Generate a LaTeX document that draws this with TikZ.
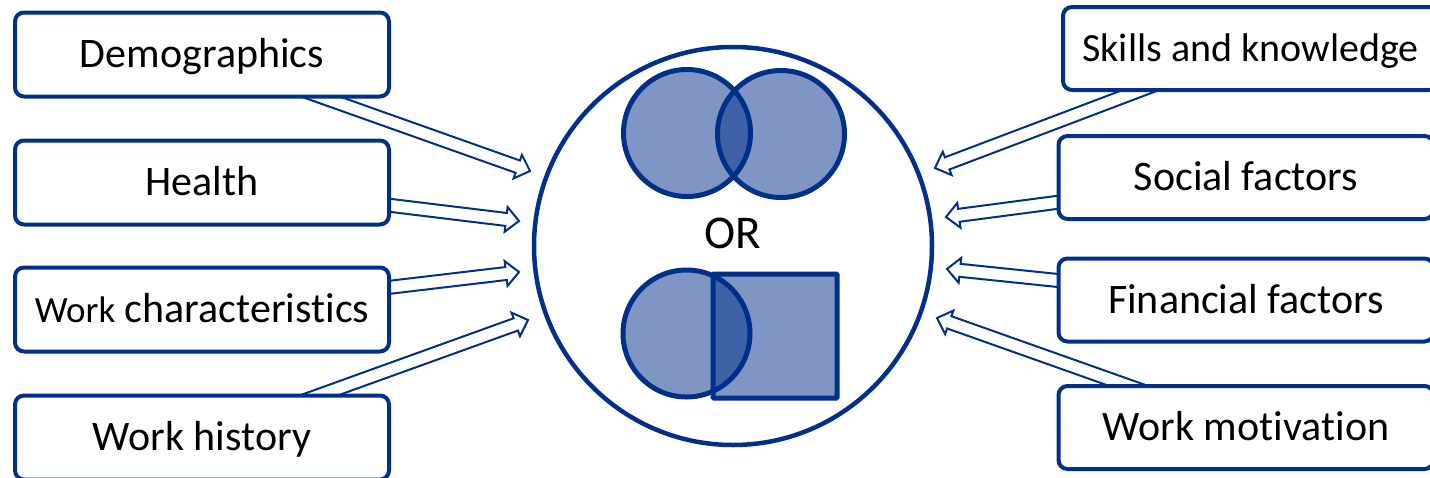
\documentclass[tikz,border=0pt]{standalone}
\usepackage{fontspec}
\setmainfont{Carlito}[Ligatures=NoCommon]
\usetikzlibrary{calc,backgrounds}
\definecolor{bd}{RGB}{0,48,135}
\definecolor{vf}{RGB}{0,45,140}
\begin{document}
\begin{tikzpicture}[x=1pt,y=-1pt,
  box/.style={draw=bd, line width=4pt, rounded corners=9pt, fill=white, inner sep=0pt,
    text height=29pt, text depth=3pt, font=\fontsize{42}{50}\selectfont, align=center},
  lbox/.style={box, minimum width=374pt, minimum height=84pt},
  rbox/.style={box, minimum width=375pt, minimum height=83pt},
  blk/.style={draw=bd, fill=white, line width=2pt, line join=miter,
    to path={let \p1=($(\tikztotarget)!13pt!(\tikztostart)$) in
      ($(\tikztostart)!6.5pt!90:(\tikztotarget)$)
      -- ($(\p1)!6.5pt!90:(\tikztotarget)$)
      -- ($(\p1)!12.5pt!90:(\tikztotarget)$)
      -- (\tikztotarget)
      -- ($(\p1)!12.5pt!-90:(\tikztotarget)$)
      -- ($(\p1)!6.5pt!-90:(\tikztotarget)$)
      -- ($(\tikztostart)!6.5pt!-90:(\tikztotarget)$) -- cycle}},
  venn/.style={draw=bd, line width=5pt, fill=vf, fill opacity=0.5, draw opacity=1}
]
\useasboundingbox (0,0) rectangle (1430,477);

% left boxes
\node[lbox] (dem) at (202,54.5) {Demographics};
\node[lbox] (hea) at (202,182.5) {Health};
\node[lbox] (wch) at (202,309.5) {{\fontsize{37}{44}\selectfont Work} characteristics};
\node[lbox] (whi) at (202,437.5) {Work history};
% right boxes
\node[rbox, font=\fontsize{40}{48}\selectfont] (ski) at (1250.5,48.5) {Skills and knowledge};
\node[rbox] (soc) at (1246,177.5) {Social factors};
\node[rbox] (fin) at (1246,300) {Financial factors};
\node[rbox] (mot) at (1246,427.5) {Work motivation};

% central circle
\node[circle, draw=bd, line width=4.5pt, minimum size=398pt, inner sep=0pt] (big) at (733,246) {};
\node[font=\fontsize{47}{55}\selectfont, anchor=base] (or) at (733,248) {OR};

% venn shapes
\node[venn, circle, minimum size=127pt, inner sep=0pt] (c1) at (687,133) {};
\node[venn, circle, minimum size=127pt, inner sep=0pt] (c2) at (781,134) {};
\node[venn, circle, minimum size=127pt, inner sep=0pt] (c3) at (686.5,333.5) {};
\node[venn, rectangle, rounded corners=1pt, minimum width=124pt, minimum height=124pt, inner sep=0pt] (sq) at (775,336) {};

% arrow tips
\coordinate (tdem) at (530,171);
\coordinate (thea) at (519,221);
\coordinate (twch) at (519,272);
\coordinate (twhi) at (528,320);
\coordinate (tski) at (935,168);
\coordinate (tsoc) at (946,217);
\coordinate (tfin) at (947,269);
\coordinate (tmot) at (937,318);

\begin{scope}[on background layer]
\draw[blk] (dem.center) to (tdem);
\draw[blk] (hea.center) to (thea);
\draw[blk] (wch.center) to (twch);
\draw[blk] (whi.center) to (twhi);
\draw[blk] (ski.center) to (tski);
\draw[blk] (soc.center) to (tsoc);
\draw[blk] (fin.center) to (tfin);
\draw[blk] (mot.center) to (tmot);
\end{scope}
\end{tikzpicture}
\end{document}
